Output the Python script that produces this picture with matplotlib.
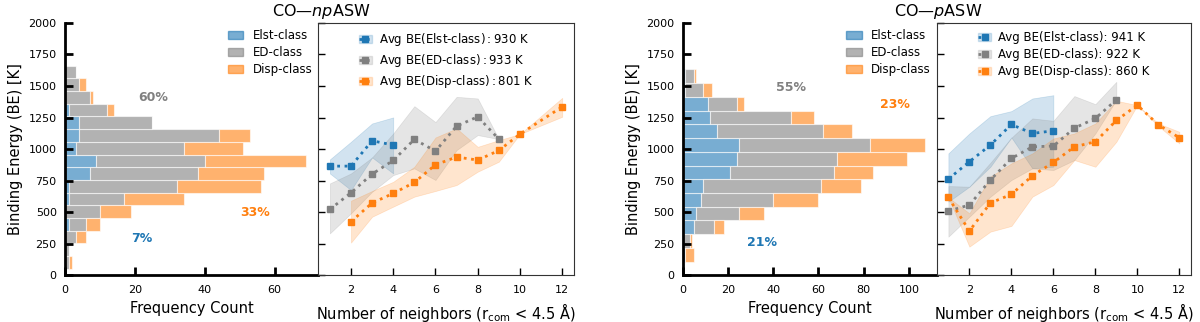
import numpy as np
import matplotlib
matplotlib.use('Agg')
import matplotlib.pyplot as plt
from matplotlib.patches import Patch
from matplotlib.lines import Line2D
from matplotlib.ticker import MultipleLocator

# colours for the three classes
C_ELST = '#1f77b4'
C_ED = 'gray'
C_DISP = '#ff7f0e'

# ---------------- CO--npASW data ----------------
# histogram counts, lowest BE bin first
np_bins = np.linspace(53, 1660, 17)
np_elst = [0, 0, 0, 1, 0, 1, 1, 7, 9, 3, 4, 4, 1, 0, 0, 0]
np_ed = [1, 1, 3, 5, 10, 16, 31, 31, 31, 31, 40, 21, 11, 7, 4, 3]
np_disp = [1, 0, 3, 4, 9, 17, 24, 19, 29, 17, 9, 0, 2, 1, 2, 0]

np_elst_x = [1, 2, 3, 4]
np_elst_mean = [865, 865, 1066, 1032]
np_elst_hi = [918, 1058, 1203, 1251]
np_elst_lo = [807, 675, 934, 807]

np_ed_x = [1, 2, 3, 4, 5, 6, 7, 8, 9]
np_ed_mean = [522, 654, 802, 910, 1077, 984, 1182, 1256, 1079]
np_ed_hi = [728, 807, 934, 1124, 1340, 1214, 1414, 1401, 1079]
np_ed_lo = [332, 491, 662, 794, 847, 755, 992, 1111, 1079]

np_disp_x = [2, 3, 4, 5, 6, 7, 8, 9, 10, 12]
np_disp_mean = [425, 573, 649, 736, 876, 937, 913, 989, 1119, 1335]
np_disp_hi = [591, 668, 741, 860, 1092, 1164, 1018, 1071, 1119, 1406]
np_disp_lo = [259, 464, 544, 623, 668, 715, 821, 900, 1119, 1256]

np_avg = [930, 933, 801]
np_pct = ['7%', '60%', '33%']

# ---------------- CO--pASW data ----------------
p_bins = np.linspace(108, 1631, 15)
p_elst = [1, 0, 5, 6, 8, 9, 21, 24, 25, 15, 12, 11, 1, 1]
p_ed = [0, 3, 9, 19, 32, 52, 46, 44, 58, 47, 36, 13, 8, 4]
p_disp = [4, 1, 4, 11, 20, 18, 17, 31, 24, 13, 10, 3, 4, 1]

p_elst_x = [1, 2, 3, 4, 5, 6]
p_elst_mean = [763, 900, 1032, 1195, 1124, 1145]
p_elst_hi = [966, 1124, 1261, 1301, 1401, 1427]
p_elst_lo = [583, 702, 860, 1092, 847, 860]

p_ed_x = [1, 2, 3, 4, 5, 6, 7, 8, 9]
p_ed_mean = [509, 557, 755, 926, 1018, 1024, 1166, 1243, 1390]
p_ed_hi = [707, 702, 892, 1090, 1243, 1224, 1420, 1356, 1533]
p_ed_lo = [306, 464, 623, 755, 847, 834, 913, 1124, 1390]

p_disp_x = [1, 2, 3, 4, 5, 6, 7, 8, 9, 10, 11, 12]
p_disp_mean = [617, 351, 573, 641, 789, 894, 1018, 1058, 1227, 1348, 1193, 1090]
p_disp_hi = [617, 491, 781, 887, 966, 1084, 1124, 1203, 1383, 1348, 1203, 1137]
p_disp_lo = [617, 227, 346, 391, 623, 715, 913, 860, 1058, 1348, 1182, 1045]

p_avg = [941, 922, 860]
p_pct = ['21%', '55%', '23%']


def draw_hist(ax, bins, elst, ed, disp, pct, pct_pos):
    centers = (bins[:-1] + bins[1:]) / 2
    h = bins[1] - bins[0]
    elst = np.array(elst)
    ed = np.array(ed)
    disp = np.array(disp)
    kw = dict(height=h, edgecolor='white', linewidth=0.8, alpha=0.6)
    ax.barh(centers, elst, color=C_ELST, **kw)
    ax.barh(centers, ed, left=elst, color=C_ED, **kw)
    ax.barh(centers, disp, left=elst + ed, color=C_DISP, **kw)
    ax.set_ylim(0, 2000)
    ax.set_yticks(np.arange(0, 2001, 250))
    ax.xaxis.set_major_locator(MultipleLocator(20))
    ax.set_xlabel('Frequency Count', fontsize=10.5)
    ax.set_ylabel('Binding Energy (BE) [K]', fontsize=10.5)
    ax.tick_params(direction='in', length=6, width=2, labelsize=8)
    ax.tick_params(axis='y', pad=6)
    ax.tick_params(axis='x', pad=7)
    for s in ['left', 'bottom']:
        ax.spines[s].set_linewidth(2)
    ax.spines['top'].set_visible(False)
    ax.spines['right'].set_visible(False)
    handles = [Patch(color=C_ELST, alpha=0.6, label='Elst-class'),
               Patch(color=C_ED, alpha=0.6, label='ED-class'),
               Patch(color=C_DISP, alpha=0.6, label='Disp-class')]
    ax.legend(handles=handles, loc='upper right', frameon=False, fontsize=8.5,
              handlelength=1.3, borderaxespad=0.1, labelspacing=0.35)
    for txt, col, pos in zip(pct, [C_ELST, C_ED, C_DISP], pct_pos):
        ax.text(pos[0], pos[1], txt, color=col, fontsize=9, fontweight='bold',
                ha='center', va='center')


def draw_lines(ax, series, avgs, sep):
    handles = []
    names = ['Elst-class', 'ED-class', 'Disp-class']
    for (x, m, hi, lo), col in zip(series, [C_ELST, C_ED, C_DISP]):
        ax.fill_between(x, lo, hi, color=col, alpha=0.2, linewidth=0.5)
        ax.plot(x, m, linestyle=':', linewidth=2, marker='s', markersize=4, color=col)
        handles.append((Patch(color=col, alpha=0.2),
                        Line2D([], [], linestyle=':', linewidth=2, marker='s',
                               markersize=4, color=col)))
    labels = [f'Avg BE({n}){sep}{a} K' for n, a in zip(names, avgs)]
    ax.legend(handles, labels, loc='upper center', frameon=False, fontsize=8.5,
              handlelength=1.1, handletextpad=0.6, borderaxespad=0.3,
              labelspacing=0.35)
    ax.set_ylim(0, 2000)
    ax.set_yticks(np.arange(0, 2001, 250))
    ax.set_yticklabels([])
    ax.set_xticks([2, 4, 6, 8, 10, 12])
    ax.tick_params(direction='in', length=5, width=1, labelsize=8)
    ax.tick_params(axis='x', pad=7)
    ax.set_xlabel(r'Number of neighbors (r$_{\rm com}$ < 4.5 Å)', fontsize=10.5)
    for s in ax.spines.values():
        s.set_color('#333333')


fig = plt.figure(figsize=(12, 3.22), dpi=100)

# left pair (npASW)
ax1 = fig.add_axes([0.0542, 0.145, 0.211, 0.784])
ax2 = fig.add_axes([0.2652, 0.145, 0.213, 0.784])
draw_hist(ax1, np_bins, np_elst, np_ed, np_disp, np_pct,
          [(21.9, 293), (25.2, 1411), (54.3, 496)])
draw_lines(ax2, [(np_elst_x, np_elst_mean, np_elst_hi, np_elst_lo),
                 (np_ed_x, np_ed_mean, np_ed_hi, np_ed_lo),
                 (np_disp_x, np_disp_mean, np_disp_hi, np_disp_lo)], np_avg, '$:$')

# right pair (pASW)
ax3 = fig.add_axes([0.569, 0.145, 0.2117, 0.784])
ax4 = fig.add_axes([0.7807, 0.145, 0.2117, 0.784])
draw_hist(ax3, p_bins, p_elst, p_ed, p_disp, p_pct,
          [(35.1, 261), (47.7, 1488), (93.6, 1354)])
draw_lines(ax4, [(p_elst_x, p_elst_mean, p_elst_hi, p_elst_lo),
                 (p_ed_x, p_ed_mean, p_ed_hi, p_ed_lo),
                 (p_disp_x, p_disp_mean, p_disp_hi, p_disp_lo)], p_avg, ': ')

# titles
fig.text(0.268, 0.965, r'CO—$\it{np}$ASW', ha='center', va='center', fontsize=11.5)
fig.text(0.782, 0.965, r'CO—$\it{p}$ASW', ha='center', va='center', fontsize=11.5)

plt.savefig('out.png', dpi=100)
